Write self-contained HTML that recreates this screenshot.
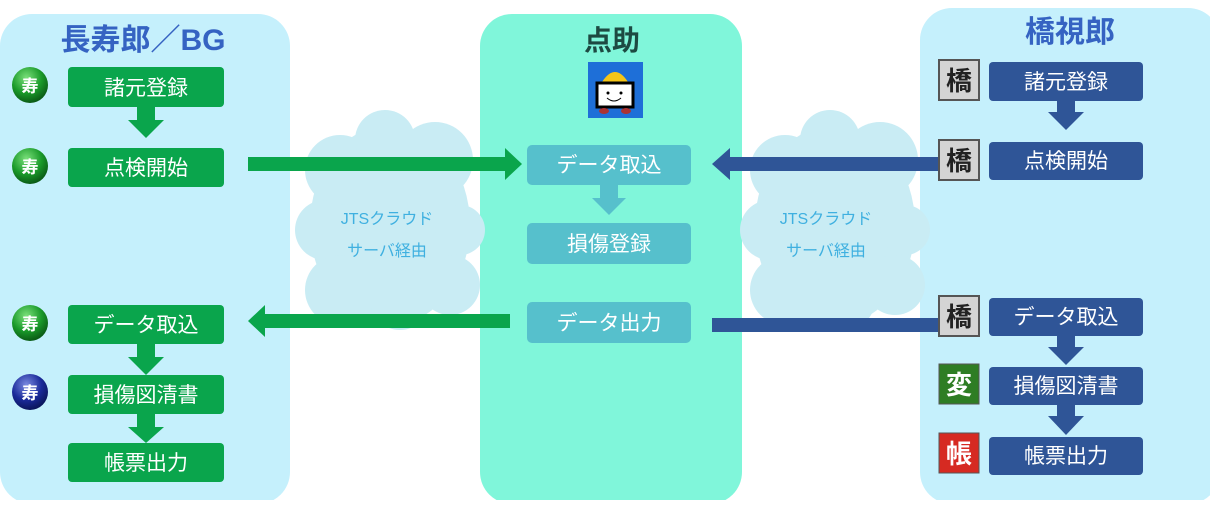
<!DOCTYPE html>
<html><head><meta charset="utf-8"><style>
body{margin:0;width:1210px;height:500px;overflow:hidden;background:#fff}
text{font-family:"Liberation Sans","Noto Sans CJK JP",sans-serif}
</style></head><body>
<svg width="1210" height="500" viewBox="0 0 1210 500">
<defs>
<radialGradient id="g1" cx="0.4" cy="0.3" r="0.7"><stop offset="0" stop-color="#7be07b"/><stop offset="0.6" stop-color="#1a9a2a"/><stop offset="1" stop-color="#0b5c16"/></radialGradient>
<radialGradient id="g2" cx="0.4" cy="0.3" r="0.7"><stop offset="0" stop-color="#7b8be0"/><stop offset="0.6" stop-color="#1a2a9a"/><stop offset="1" stop-color="#0b165c"/></radialGradient>
</defs>
<rect x="0" y="14" width="290" height="490" rx="32" fill="#c5f0fc"/>
<rect x="480" y="14" width="262" height="490" rx="32" fill="#80f6da"/>
<rect x="920" y="8" width="300" height="496" rx="32" fill="#c5f0fc"/>
<g fill="#c9ecf4">
<ellipse cx="390" cy="225" rx="80" ry="100"/>
<circle cx="340" cy="170" r="35"/><circle cx="385" cy="140" r="30"/><circle cx="435" cy="160" r="38"/>
<circle cx="325" cy="230" r="30"/><circle cx="460" cy="230" r="25"/><circle cx="340" cy="290" r="35"/><circle cx="400" cy="300" r="30"/><circle cx="450" cy="285" r="30"/>
<ellipse cx="835" cy="225" rx="80" ry="100"/>
<circle cx="785" cy="170" r="35"/><circle cx="830" cy="140" r="30"/><circle cx="880" cy="160" r="38"/>
<circle cx="770" cy="230" r="30"/><circle cx="905" cy="230" r="25"/><circle cx="785" cy="290" r="35"/><circle cx="845" cy="300" r="30"/><circle cx="895" cy="285" r="30"/>
</g>
<g font-size="16" fill="#3fb0e0" text-anchor="middle">
<text x="387" y="224">JTSクラウド</text><text x="387" y="256">サーバ経由</text>
<text x="826" y="224">JTSクラウド</text><text x="826" y="256">サーバ経由</text>
</g>
<g font-weight="bold" text-anchor="middle">
<text x="143" y="50" font-size="30" fill="#3563c2">長寿郎／BG</text>
<text x="612" y="50" font-size="28" fill="#1d4a42">点助</text>
<text x="1070" y="42" font-size="30" fill="#3563c2">橋視郎</text>
</g>
<rect x="588" y="62" width="55" height="56" fill="#1e6fd8"/>
<path d="M602 82 Q615 62 628 82 Z" fill="#f5c518"/>
<rect x="597" y="83" width="36" height="24" fill="#fff" stroke="#000" stroke-width="3"/>
<circle cx="608" cy="93" r="1.5"/><circle cx="621" cy="93" r="1.5"/>
<path d="M607 98 Q614 104 621 98" stroke="#000" fill="none"/>
<ellipse cx="604" cy="111" rx="5" ry="3" fill="#a33"/><ellipse cx="626" cy="111" rx="5" ry="3" fill="#a33"/>
<rect x="248" y="157" width="260" height="14" fill="#0aa54c"/>
<polygon points="505,148 522,164 505,180" fill="#0aa54c"/>
<rect x="263" y="314" width="247" height="14" fill="#0aa54c"/>
<polygon points="265,305 248,321 265,337" fill="#0aa54c"/>
<rect x="728" y="157" width="215" height="14" fill="#2f5597"/>
<polygon points="730,148 712,164 730,180" fill="#2f5597"/>
<rect x="712" y="318" width="233" height="14" fill="#2f5597"/>
<g fill="#0aa54c">
<rect x="68" y="67" width="156" height="40" rx="4"/>
<rect x="68" y="148" width="156" height="39" rx="4"/>
<rect x="68" y="305" width="156" height="39" rx="4"/>
<rect x="68" y="375" width="156" height="39" rx="4"/>
<rect x="68" y="443" width="156" height="39" rx="4"/>
<rect x="137" y="107" width="18" height="14"/><polygon points="128,120 164,120 146,138"/>
<rect x="137" y="344" width="18" height="14"/><polygon points="128,357 164,357 146,375"/>
<rect x="137" y="414" width="18" height="14"/><polygon points="128,427 164,427 146,443"/>
</g>
<g font-size="21" fill="#fff" text-anchor="middle">
<text x="146" y="95">諸元登録</text><text x="146" y="175">点検開始</text>
<text x="146" y="332">データ取込</text><text x="146" y="402">損傷図清書</text><text x="146" y="470">帳票出力</text>
</g>
<g font-size="17" font-weight="bold" fill="#fff" text-anchor="middle">
<circle cx="30" cy="85" r="18" fill="url(#g1)"/><text x="30" y="92">寿</text>
<circle cx="30" cy="166" r="18" fill="url(#g1)"/><text x="30" y="173">寿</text>
<circle cx="30" cy="323" r="18" fill="url(#g1)"/><text x="30" y="330">寿</text>
<circle cx="30" cy="392" r="18" fill="url(#g2)"/><text x="30" y="399">寿</text>
</g>
<g fill="#56c0cc">
<rect x="527" y="145" width="164" height="40" rx="5"/>
<rect x="527" y="223" width="164" height="41" rx="5"/>
<rect x="527" y="302" width="164" height="41" rx="5"/>
<rect x="600" y="185" width="18" height="14"/><polygon points="592,198 626,198 609,215"/>
</g>
<g font-size="21" fill="#fff" text-anchor="middle">
<text x="609" y="172">データ取込</text><text x="609" y="251">損傷登録</text><text x="609" y="330">データ出力</text>
</g>
<g fill="#2f5597">
<rect x="989" y="62" width="154" height="39" rx="4"/>
<rect x="989" y="142" width="154" height="38" rx="4"/>
<rect x="989" y="298" width="154" height="38" rx="4"/>
<rect x="989" y="367" width="154" height="38" rx="4"/>
<rect x="989" y="437" width="154" height="38" rx="4"/>
<rect x="1057" y="101" width="18" height="12"/><polygon points="1048,112 1084,112 1066,130"/>
<rect x="1057" y="336" width="18" height="12"/><polygon points="1048,347 1084,347 1066,365"/>
<rect x="1057" y="405" width="18" height="12"/><polygon points="1048,416 1084,416 1066,435"/>
</g>
<g font-size="21" fill="#fff" text-anchor="middle">
<text x="1066" y="89">諸元登録</text><text x="1066" y="168">点検開始</text>
<text x="1066" y="324">データ取込</text><text x="1066" y="393">損傷図清書</text><text x="1066" y="463">帳票出力</text>
</g>
<g font-size="26" font-weight="bold" text-anchor="middle">
<rect x="939" y="60" width="40" height="40" fill="#d4d4d4" stroke="#555" stroke-width="2"/><text x="959" y="90" fill="#222">橋</text>
<rect x="939" y="140" width="40" height="40" fill="#d4d4d4" stroke="#555" stroke-width="2"/><text x="959" y="170" fill="#222">橋</text>
<rect x="939" y="296" width="40" height="40" fill="#d4d4d4" stroke="#555" stroke-width="2"/><text x="959" y="326" fill="#222">橋</text>
<rect x="939" y="364" width="40" height="40" fill="#2e7d24" stroke="#555" stroke-width="1"/><text x="959" y="394" fill="#fff">変</text>
<rect x="939" y="433" width="40" height="40" fill="#d62a22" stroke="#555" stroke-width="1"/><text x="959" y="463" fill="#fff">帳</text>
</g>
</svg>
</body></html>
